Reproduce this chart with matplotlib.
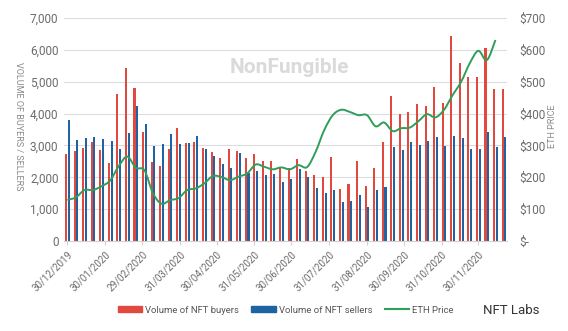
import numpy as np
import pandas as pd
import matplotlib
matplotlib.use("Agg")
import matplotlib.pyplot as plt
from matplotlib.path import Path
from matplotlib.patches import PathPatch, Patch
from matplotlib.lines import Line2D

plt.rcParams['font.family'] = ['Roboto', 'DejaVu Sans']

# weekly data, first week starting 30/12/2019
buyers = [2730, 2810, 2910, 3110, 2860, 2460, 4630, 5420, 4800, 3430,
          2490, 2350, 2900, 3550, 3090, 3110, 2920, 2780, 2590, 2890,
          2830, 2600, 2740, 2520, 2510, 2300, 2280, 2570, 2200, 2080,
          2000, 2650, 1630, 1780, 2510, 1740, 2280, 3110, 4550, 3975,
          4050, 4290, 4225, 4840, 4330, 6430, 5600, 5140, 5150, 6050,
          4780, 4780]
sellers = [3800, 3160, 3220, 3270, 3200, 3130, 2900, 3400, 4240, 3660,
           2980, 3030, 3350, 3030, 3090, 3300, 2890, 2680, 2420, 2290,
           2770, 2140, 2190, 2080, 2100, 1840, 1950, 2250, 2000, 1650,
           1500, 1610, 1210, 1245, 1440, 1080, 1600, 1700, 2950, 2860,
           3100, 3010, 3130, 3270, 2980, 3300, 3220, 2890, 2900, 3410,
           2960, 3250]
eth_price = [129, 137, 160, 160, 172, 190, 235, 265, 230, 222,
             150, 117, 128, 135, 160, 165, 181, 204, 201, 191,
             202, 212, 240, 233, 225, 231, 225, 238, 232, 280,
             348, 395, 412, 405, 395, 395, 360, 372, 345, 354,
             356, 376, 398, 388, 412, 458, 500, 558, 597, 568,
             631]
tick_dates = ['30/12/2019', '30/01/2020', '29/02/2020', '31/03/2020',
              '30/04/2020', '31/05/2020', '30/06/2020', '31/07/2020',
              '31/08/2020', '30/09/2020', '31/10/2020', '30/11/2020']

RED = '#e2493e'
BLUE = '#1f63a3'
GREEN = '#2f9e5a'
GREY = '#6b6b6b'

fig = plt.figure(figsize=(5.68, 3.31), dpi=100)
ax = fig.add_axes([0.1127, 0.2719, 0.7799, 0.6737])
ax2 = ax.twinx()

weeks = np.arange(len(buyers))
bw = 0.24
ax.bar(weeks - 0.16, buyers, width=bw, color=RED, zorder=2)
ax.bar(weeks + 0.16, sellers, width=bw, color=BLUE, zorder=2)

# smoothed ETH line, bezier segments like a spreadsheet "smooth line"
ex = np.arange(len(eth_price), dtype=float)
ey = np.array(eth_price, dtype=float)
verts = [(ex[0], ey[0])]
codes = [Path.MOVETO]
n = len(ex)
for i in range(n - 1):
    p0 = (ex[max(i - 1, 0)], ey[max(i - 1, 0)])
    p1 = (ex[i], ey[i])
    p2 = (ex[i + 1], ey[i + 1])
    p3 = (ex[min(i + 2, n - 1)], ey[min(i + 2, n - 1)])
    c1 = (p1[0] + (p2[0] - p0[0]) / 6, p1[1] + (p2[1] - p0[1]) / 6)
    c2 = (p2[0] - (p3[0] - p1[0]) / 6, p2[1] - (p3[1] - p1[1]) / 6)
    verts += [c1, c2, p2]
    codes += [Path.CURVE4] * 3
ax2.add_patch(PathPatch(Path(verts, codes), facecolor='none',
                        edgecolor=GREEN, lw=1.4, zorder=3))

ax.set_xlim(-0.39, 51.35)
ax.set_ylim(0, 7000)
ax2.set_ylim(0, 700)

ax.set_yticks(np.arange(0, 7001, 1000))
ax.set_yticklabels([f'{v:,}' for v in range(0, 7001, 1000)])
ax2.set_yticks(np.arange(0, 701, 100))
ax2.set_yticklabels(['$-'] + [f'${v}' for v in range(100, 701, 100)])

start = pd.Timestamp('2019-12-30')
tick_pos = [(pd.to_datetime(d, format='%d/%m/%Y') - start).days / 7 for d in tick_dates]
ax.set_xticks(tick_pos)
ax.set_xticklabels(tick_dates, rotation=45, ha='right', va='top',
                   rotation_mode='anchor', fontsize=7, color=GREY)

ax.grid(axis='y', color='#dcdcdc', lw=0.8, zorder=0)
ax.set_axisbelow(True)
for a in (ax, ax2):
    for s in a.spines.values():
        s.set_visible(False)
ax.spines['bottom'].set_visible(True)
ax.spines['bottom'].set_color('#d0d0d0')

ax.tick_params(axis='y', length=0, pad=4, labelsize=8.5, labelcolor=GREY)
ax2.tick_params(axis='y', length=0, pad=9, labelsize=8.5, labelcolor=GREY)
ax.tick_params(axis='x', length=3, color='#d0d0d0', pad=3)

fig.text(0.032, 0.62, 'VOLUME OF BUYERS / SELLERS', rotation=270,
         ha='center', va='center', fontsize=6.5, color='#8a8a8a')
fig.text(0.973, 0.62, 'ETH PRICE', rotation=90,
         ha='center', va='center', fontsize=6.5, color='#8a8a8a')

# watermarks
fig.text(0.51, 0.795, 'NonFungible', ha='center', va='center',
         fontsize=15, fontweight='bold', color='#dadada', zorder=0)
fig.text(0.90, 0.063, 'NFT Labs', ha='center', va='center',
         fontsize=9.5, color='#333333')

handles = [Patch(color=RED, label='Volume of NFT buyers'),
           Patch(color=BLUE, label='Volume of NFT sellers'),
           Line2D([], [], color=GREEN, lw=1.5, label='ETH Price')]
leg = fig.legend(handles=handles, loc='center', bbox_to_anchor=(0.503, 0.063),
                 ncol=3, frameon=False, fontsize=6.8, handlelength=2.6,
                 handleheight=0.6, columnspacing=1.3, handletextpad=0.3)
for t in leg.get_texts():
    t.set_color('#555555')

fig.savefig('out.png', dpi=100)
